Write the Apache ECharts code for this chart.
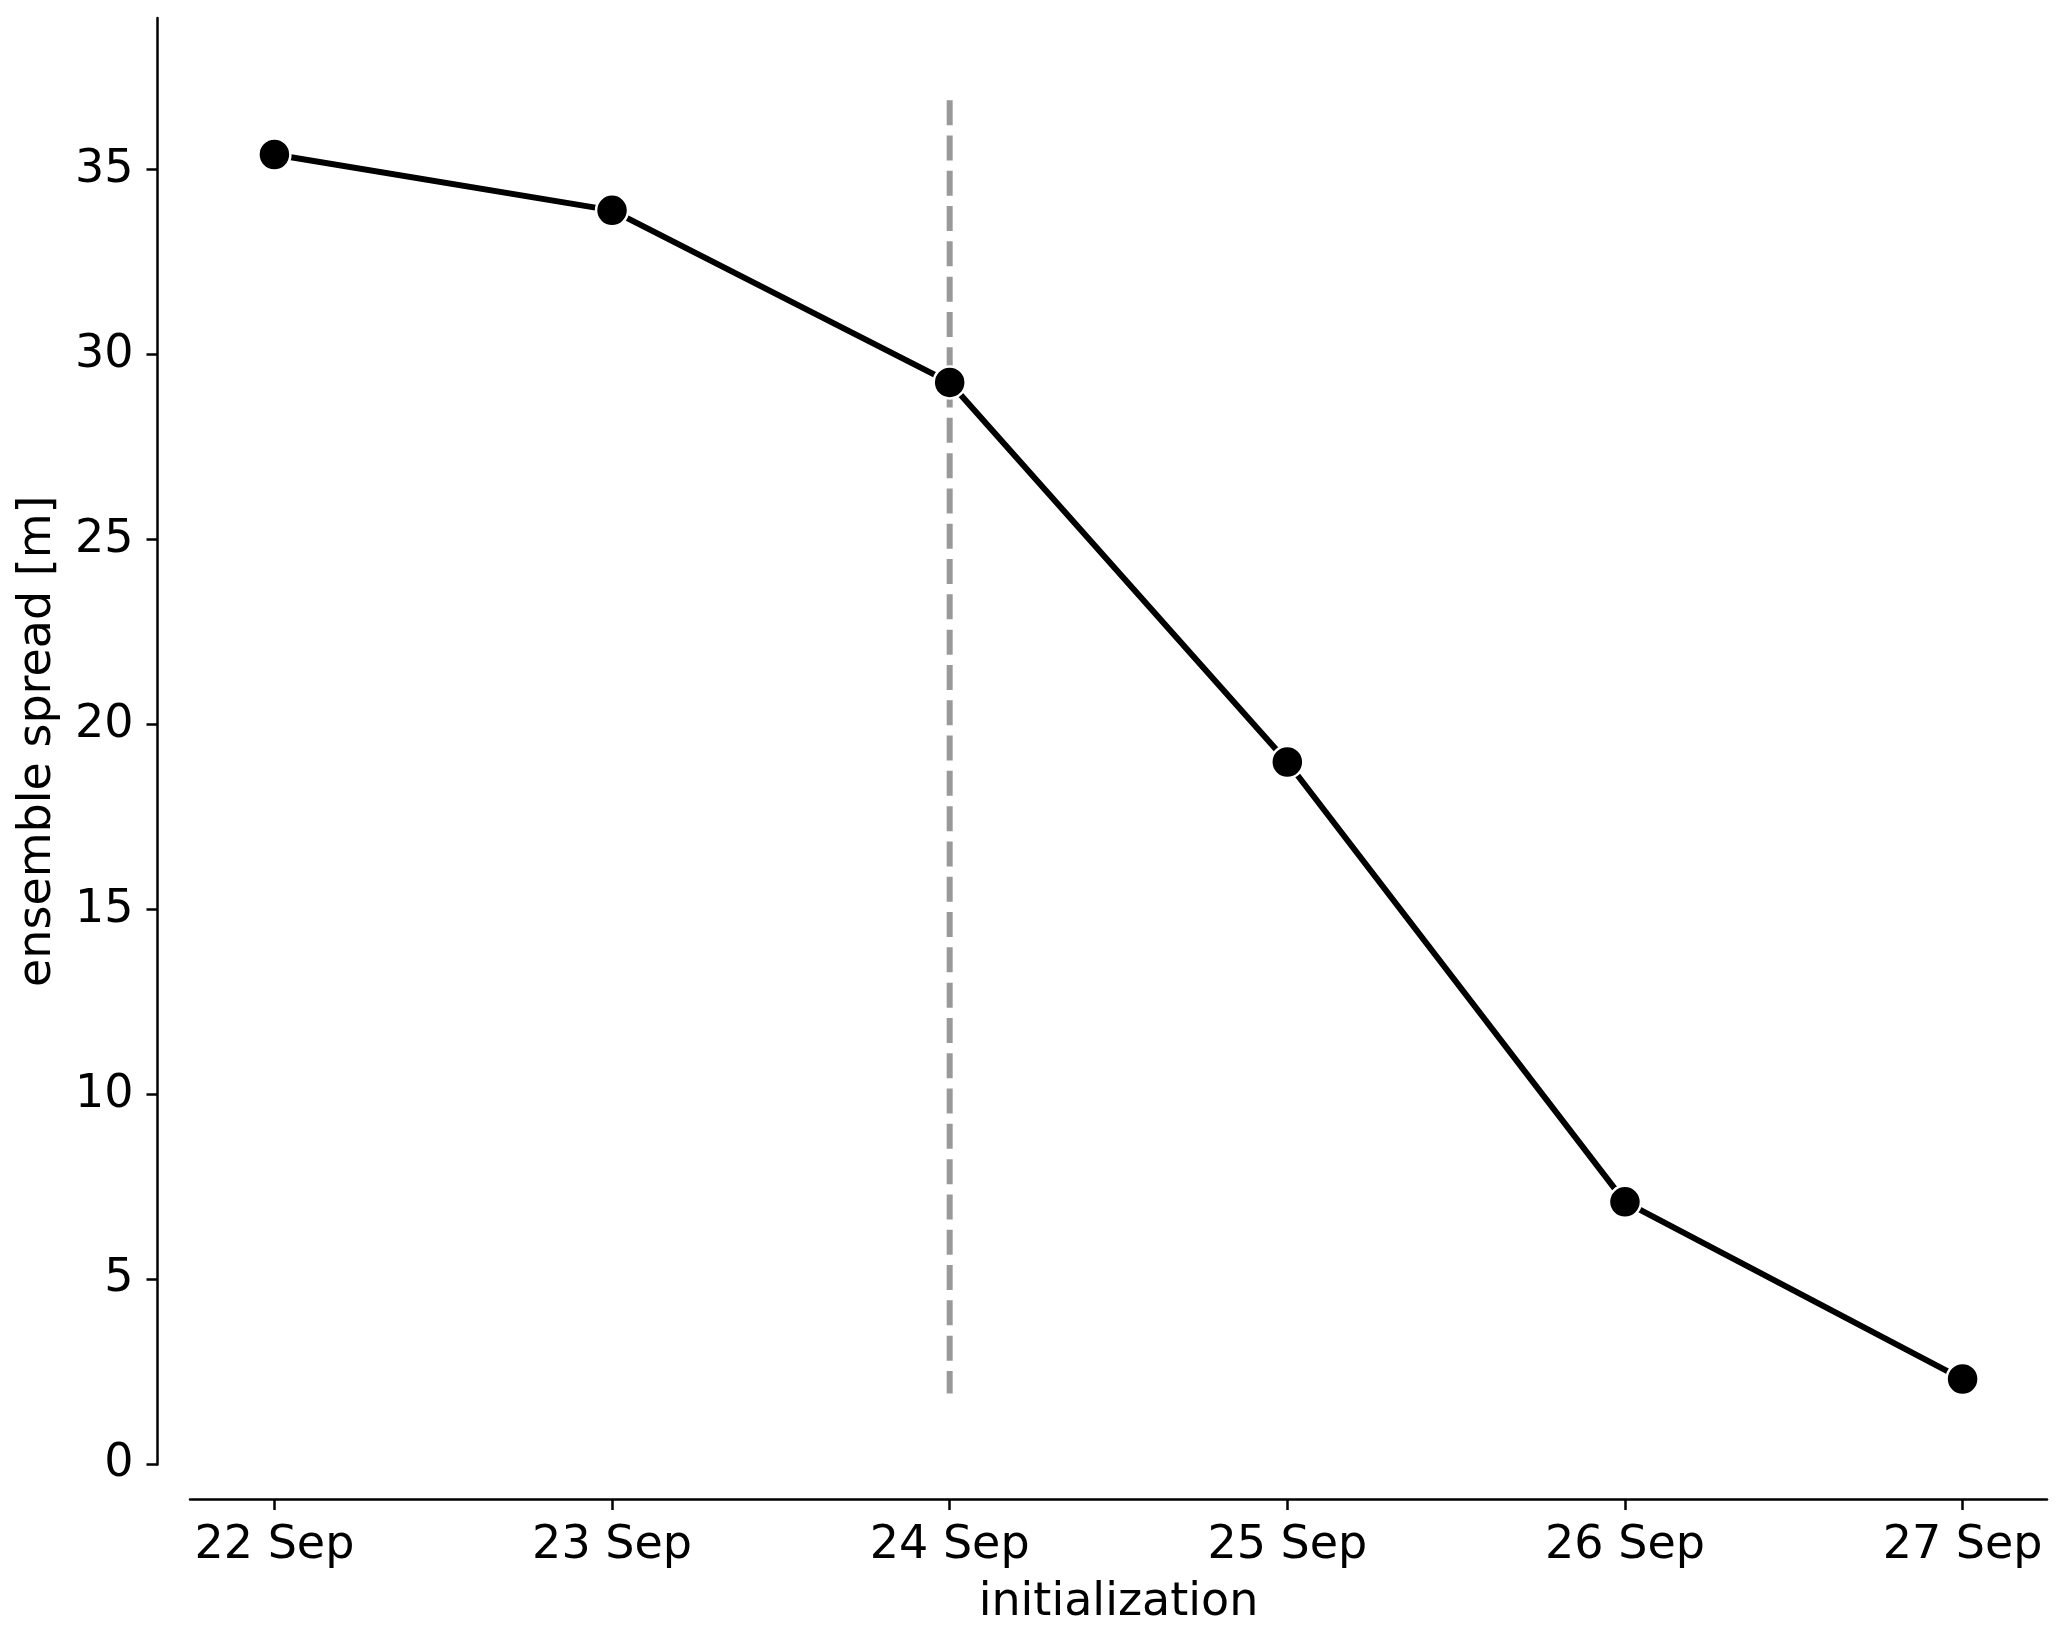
<!DOCTYPE html>
<html>
<head>
<meta charset="utf-8">
<script src="https://cdn.jsdelivr.net/npm/echarts@6/dist/echarts.min.js"></script>
<style>
html,body{margin:0;padding:0;background:#fff;}
#chart{width:2067px;height:1635px;}
</style>
</head>
<body>
<div id="chart"></div>
<script>
// ---- data ----
const categories = ['22 Sep', '23 Sep', '24 Sep', '25 Sep', '26 Sep', '27 Sep'];
const spread = [35.41, 33.90, 29.25, 18.99, 7.10, 2.31];
const yTicks = [0, 5, 10, 15, 20, 25, 30, 35];
const markerIndex = 2;            // dashed vertical line at 24 Sep
const markerRange = [36.88, 1.92]; // extent of the dashed line (top to bottom)

const xTickValues = categories.map((c, i) => i);
const lineData = spread.map((v, i) => [i, v]);
const dashData = markerRange.map(v => [markerIndex, v]);

const FONT = 'DejaVu Sans';
const chart = echarts.init(document.getElementById('chart'), null, {renderer: 'canvas'});
chart.setOption({
  animation: false,
  backgroundColor: '#ffffff',
  grid: {left: 190, right: 20, top: 18, bottom: 170.5, containLabel: false},
  xAxis: {
    type: 'value',
    min: -0.25,
    max: 5.25,
    offset: 34.5,
    name: 'initialization',
    nameLocation: 'middle',
    nameGap: 81,
    nameTextStyle: {fontFamily: FONT, fontSize: 46, color: '#000'},
    axisLine: {show: true, onZero: false, lineStyle: {color: '#000', width: 2.5}},
    axisTick: {show: true, length: 11, customValues: xTickValues, lineStyle: {color: '#000', width: 2.5}},
    axisLabel: {
      show: true, customValues: xTickValues, margin: 24,
      fontFamily: FONT, fontSize: 46, color: '#000',
      formatter: v => categories[Math.round(v)]
    },
    splitLine: {show: false}
  },
  yAxis: {
    type: 'value',
    min: 0,
    max: 39.1,
    offset: 32.5,
    name: 'ensemble spread [m]',
    nameLocation: 'middle',
    nameGap: 96,
    nameTextStyle: {fontFamily: FONT, fontSize: 46, color: '#000'},
    axisLine: {show: true, onZero: false, lineStyle: {color: '#000', width: 2.5}},
    axisTick: {show: true, length: 11, customValues: yTicks, lineStyle: {color: '#000', width: 2.5}},
    axisLabel: {
      show: true, customValues: yTicks, margin: 24,
      fontFamily: FONT, fontSize: 46, color: '#000'
    },
    splitLine: {show: false}
  },
  series: [
    {
      type: 'line',
      data: dashData,
      symbol: 'none',
      z: 1,
      lineStyle: {color: '#999999', width: 6, type: [25, 10.3]}
    },
    {
      type: 'line',
      data: lineData,
      z: 3,
      symbol: 'circle',
      symbolSize: 32,
      itemStyle: {color: '#000', borderColor: '#fff', borderWidth: 2.5},
      lineStyle: {color: '#000', width: 6}
    }
  ]
});
</script>
</body>
</html>
